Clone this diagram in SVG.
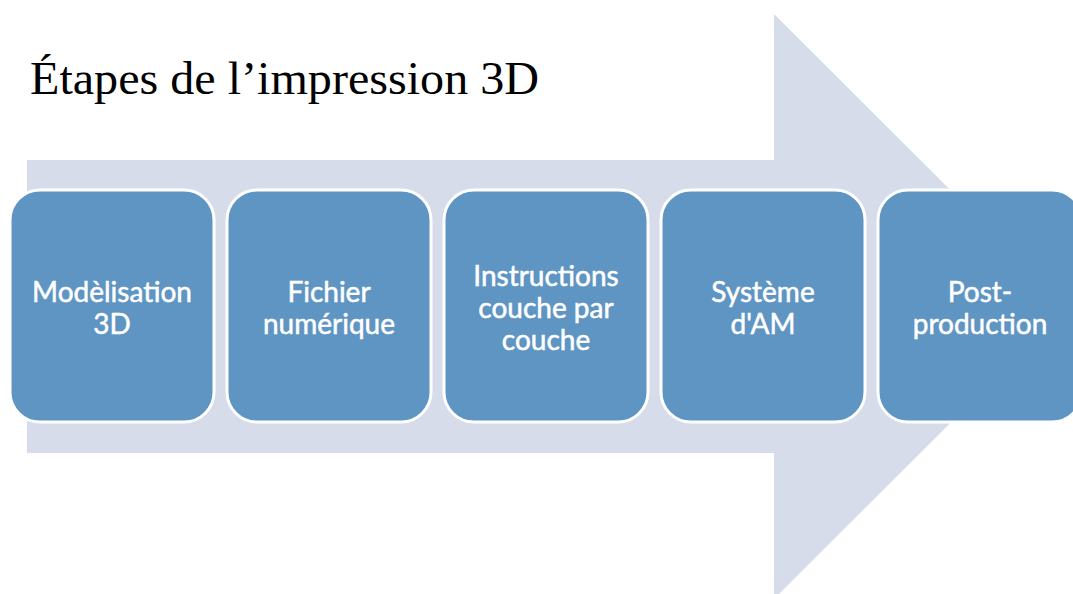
<svg xmlns="http://www.w3.org/2000/svg" width="1073" height="594" viewBox="0 0 1073 594">
  <style>
    .title { font-family: "Liberation Serif", "Times New Roman", serif; font-size: 47px; fill: #000; }
    .step rect { fill: #5f95c3; stroke: #ffffff; stroke-width: 3; }
    .step text { font-family: Lato, "Open Sans", "Liberation Sans", sans-serif; font-size: 28px; fill: #ffffff; stroke: #ffffff; stroke-width: 0.5; text-anchor: middle; }
  </style>
  <rect width="1073" height="594" fill="#ffffff"/>

  <text class="title" x="30" y="94" textLength="509" lengthAdjust="spacingAndGlyphs">Étapes de l’impression 3D</text>

  <!-- background process arrow -->
  <g id="connectors">
    <path d="M27 160 H774 V14 L1067 306.5 L774 599 V453 H27 Z" fill="#d6dcea"/>
  </g>

  <g id="step1" class="step">
    <rect x="10" y="190" width="204" height="232" rx="30" ry="30"/>
    <text x="112" y="302">Modèlisation</text>
    <text x="112" y="334">3D</text>
  </g>
  <g id="step2" class="step">
    <rect x="227" y="190" width="204" height="232" rx="30" ry="30"/>
    <text x="329" y="302">Fichier</text>
    <text x="329" y="334">numérique</text>
  </g>
  <g id="step3" class="step">
    <rect x="444" y="190" width="204" height="232" rx="30" ry="30"/>
    <text x="546" y="286">Instructions</text>
    <text x="546" y="318">couche par</text>
    <text x="546" y="350">couche</text>
  </g>
  <g id="step4" class="step">
    <rect x="661" y="190" width="204" height="232" rx="30" ry="30"/>
    <text x="763" y="302">Système</text>
    <text x="763" y="334">d'AM</text>
  </g>
  <g id="step5" class="step">
    <rect x="878" y="190" width="204" height="232" rx="30" ry="30"/>
    <text x="980" y="302">Post-</text>
    <text x="980" y="334">production</text>
  </g>
</svg>
